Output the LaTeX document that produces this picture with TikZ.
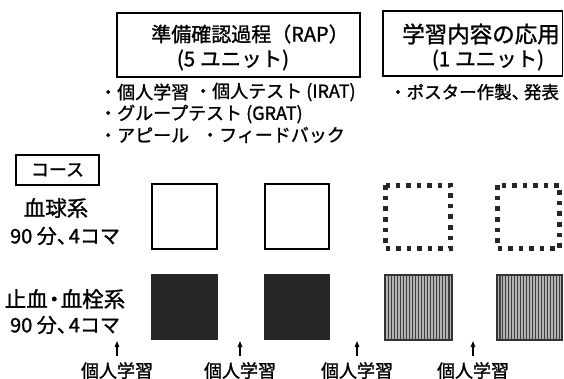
\documentclass[tikz,border=0pt]{standalone}
\usepackage{fontspec}
\setmainfont{Noto Sans CJK JP}[FakeBold=1.2]
\usetikzlibrary{arrows.meta}
\tikzset{
  titlebox/.style={draw, line width=1.8pt},
  ttla/.style={font=\fontsize{20}{22}\selectfont, inner sep=0pt},
  ttlb/.style={font=\fontsize{20.5}{22}\selectfont, inner sep=0pt},
  ttlc/.style={font=\fontsize{22.5}{24}\selectfont, inner sep=0pt},
  bul/.style={font=\fontsize{18}{20}\selectfont, inner sep=0pt, anchor=west},
  bulr/.style={font=\fontsize{17.5}{19}\selectfont, inner sep=0pt, anchor=west},
  lab/.style={font=\fontsize{20}{22}\selectfont, inner sep=0pt},
  labb/.style={font=\fontsize{21.5}{23}\selectfont, inner sep=0pt},
  small/.style={font=\fontsize{18}{20}\selectfont, inner sep=0pt},
  sqwhite/.style={draw, line width=1.4pt, fill=white},
  sqblack/.style={draw=black!85, line width=1.2pt, fill=black!85},
  sqdot/.style={draw=black!85, line width=4.5pt, dash pattern=on 4.5pt off 6pt},
  sqhatch/.style={draw=black!80, line width=1.4pt, fill=black!30},
  uparrow/.style={-{Triangle[width=4.5pt,length=6pt]}, line width=1.3pt},
}
\begin{document}
\begin{tikzpicture}[x=1pt,y=-1pt]
\useasboundingbox (0,0) rectangle (564,379);
% title boxes
\draw[titlebox] (117,13) rectangle (360,77);
\node[ttla] (t1a) at (250,34) {準備確認過程（RAP）};
\node[ttlb] (t1b) at (233,60) {(5\hspace{5pt}ユニット)};
\draw[titlebox] (383,11) rectangle (562.5,76);
\node[ttlc] (t2a) at (481,34) {学習内容の応用};
\node[ttlb] (t2b) at (488,60) {(1\hspace{5pt}ユニット)};
% bullets
\node[bul] (b1) at (99,92) {・個人学習};
\node[bul] (b2) at (194,92) {・個人テスト (IRAT)};
\node[bul] (b3) at (99,114) {・グループテスト (GRAT)};
\node[bul] (b4) at (99,135) {・アピール};
\node[bul] (b5) at (201,135) {・フィードバック};
\node[bulr] (b6) at (389,92) {・ポスター作製、\kern-0.3em 発表};
% course box
\draw[line width=1.6pt] (16,155) rectangle (99,185);
\node[small] (course) at (57.5,170) {コース};
% left labels
\node[labb] (l1) at (56,208) {血球系};
\node[lab] (l2) at (65,236) {90 分、\kern-0.4em 4コマ};
\node[labb] (l3) at (65,299) {止血\kern-0.2em・\kern-0.2em 血栓系};
\node[lab] (l4) at (65,325) {90 分、\kern-0.4em 4コマ};
% squares row 1
\draw[sqwhite] (152,184) rectangle (217,249);
\draw[sqwhite] (265,184) rectangle (329,249);
\draw[sqdot] (385.5,185.5) rectangle (450.5,248.5);
\draw[sqdot] (497.5,185.5) rectangle (559.5,248.5);
% squares row 2
\draw[sqblack] (152,275) rectangle (217,339);
\draw[sqblack] (265,275) rectangle (329,339);
\foreach \xa/\xb in {385/452, 497/562}{
  \draw[sqhatch] (\xa,275) rectangle (\xb,340);
  \foreach \k in {1,...,21}{
    \pgfmathsetmacro{\xx}{\xa+\k*(\xb-\xa)/22}
    \draw[black!75, line width=1.1pt] (\xx,275.7) -- (\xx,339.3);
  }
  \draw[draw=black!80, line width=1.4pt] (\xa,275) rectangle (\xb,340);
}
% arrows and labels
\foreach \n/\x in {1/117, 2/240, 3/357, 4/473}{
  \node[small, anchor=north] (k\n) at (\x,362) {個人学習};
  \coordinate (a\n) at (\x,341);
  \draw[uparrow, shorten <=6pt] (k\n.north) -- (a\n);
}
\end{tikzpicture}
\end{document}
